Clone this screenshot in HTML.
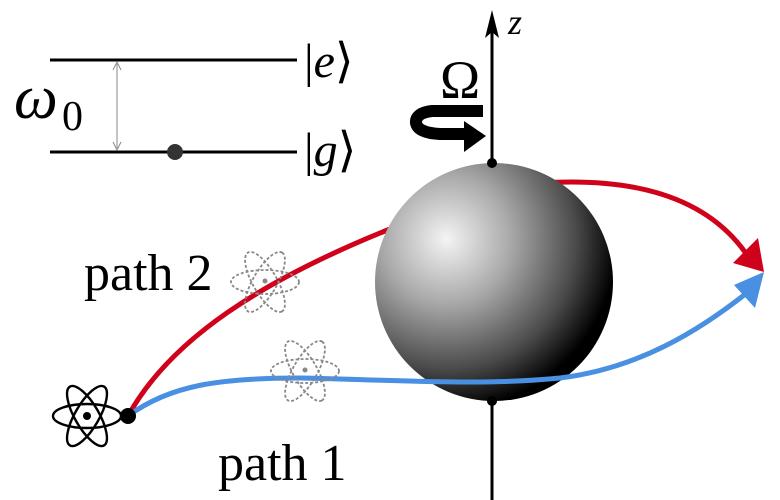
<!DOCTYPE html>
<html><head><meta charset="utf-8"><style>
html,body{margin:0;padding:0;background:#fff;}
svg{display:block;}
</style></head><body>
<svg width="780" height="500" viewBox="0 0 780 500" xmlns="http://www.w3.org/2000/svg">
<defs>
<radialGradient id="sg" cx="0.3" cy="0.32" r="0.78" fx="0.3" fy="0.32">
<stop offset="0" stop-color="#f4f4f4"/>
<stop offset="0.35" stop-color="#a8a8a8"/>
<stop offset="0.7" stop-color="#4a4a4a"/>
<stop offset="0.92" stop-color="#000"/>
<stop offset="1" stop-color="#000"/>
</radialGradient>
<g id="atom">
<ellipse cx="0" cy="0" rx="34" ry="12" fill="none"/>
<ellipse cx="0" cy="0" rx="34" ry="12" fill="none" transform="rotate(60)"/>
<ellipse cx="0" cy="0" rx="34" ry="12" fill="none" transform="rotate(-60)"/>
</g>
</defs>
<!-- energy levels -->
<line x1="50" y1="60" x2="297" y2="60" stroke="#000" stroke-width="3"/>
<line x1="50" y1="152" x2="297" y2="152" stroke="#000" stroke-width="3"/>
<line x1="117" y1="64" x2="117" y2="148" stroke="#888" stroke-width="1"/>
<path d="M113,70 L117,62 L121,70 M113,142 L117,150 L121,142" fill="none" stroke="#888" stroke-width="1"/>
<circle cx="175" cy="152" r="8" fill="#333"/>
<text x="14" y="118" font-family="Liberation Serif, serif" font-style="italic" font-size="62">ω</text>
<text x="62" y="130" font-family="Liberation Serif, serif" font-size="42">0</text>
<text x="304" y="77" font-family="Liberation Serif, serif" font-size="48"><tspan>|</tspan><tspan font-style="italic">e</tspan><tspan>⟩</tspan></text>
<text x="304" y="166" font-family="Liberation Serif, serif" font-size="48"><tspan>|</tspan><tspan font-style="italic">g</tspan><tspan>⟩</tspan></text>
<!-- axis -->
<line x1="492" y1="22" x2="492" y2="500" stroke="#000" stroke-width="3"/>
<path d="M485,38 L492,10 L499,38 L492,32 Z" fill="#000"/>
<text x="508" y="34" font-family="Liberation Serif, serif" font-style="italic" font-size="36">z</text>
<text x="440" y="98" font-family="Liberation Serif, serif" font-size="54">Ω</text>
<!-- rotation arrow -->
<path d="M483,111 L432,111 Q415,113 416,123 Q418,133 440,134 L468,134" fill="none" stroke="#000" stroke-width="12"/>
<path d="M464,121 L486,136 L464,152 Z" fill="#000"/>
<!-- red path behind sphere -->
<path d="M128,416 C170,340 260,280 400,225" fill="none" stroke="#d0021b" stroke-width="5"/>
<path d="M540,183 C620,178 700,190 745,252" fill="none" stroke="#d0021b" stroke-width="5"/>
<path d="M764,272 L733,263 L758,238 Z" fill="#d0021b"/>
<!-- sphere -->
<circle cx="494" cy="282" r="119" fill="url(#sg)"/>
<circle cx="492" cy="163" r="5" fill="#000"/>
<circle cx="492" cy="401" r="5" fill="#000"/>
<!-- blue path -->
<path d="M128,416 C170,385 220,378 300,378 C400,380 480,386 560,378 C640,368 700,330 748,292" fill="none" stroke="#4a90e2" stroke-width="5"/>
<path d="M764,272 L755,308 L734,285 Z" fill="#4a90e2"/>
<circle cx="128" cy="416" r="8" fill="#000"/>
<!-- atoms -->
<g stroke="#000" stroke-width="2.4"><use href="#atom" x="87" y="416"/></g>
<circle cx="87" cy="416" r="4" fill="#000"/>
<g stroke="#888" stroke-width="1.8" stroke-dasharray="3,2"><use href="#atom" x="265" y="282"/><use href="#atom" x="305" y="371"/></g>
<circle cx="265" cy="281" r="2.5" fill="#888"/>
<circle cx="305" cy="370" r="2.5" fill="#888"/>
<!-- labels -->
<text x="84" y="290" font-family="Liberation Serif, serif" font-size="52">path 2</text>
<text x="218" y="480" font-family="Liberation Serif, serif" font-size="52">path 1</text>
</svg>
</body></html>
